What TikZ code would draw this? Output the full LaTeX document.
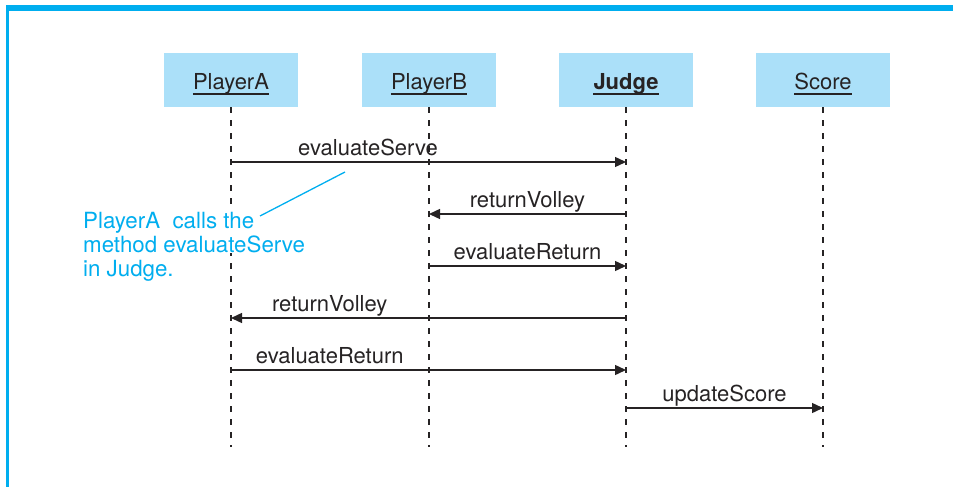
\documentclass[tikz,border=0pt]{standalone}
\usepackage{fontspec}
\setmainfont{TeX Gyre Heros}
\usetikzlibrary{arrows.meta,positioning}
\definecolor{boxblue}{HTML}{ABE0F9}
\definecolor{framecyan}{HTML}{00AEEF}
\definecolor{ink}{HTML}{262324}

\tikzset{
  obj/.style={fill=boxblue, minimum width=134pt, minimum height=54pt, inner sep=0pt},
  objname/.style={anchor=base, inner sep=0pt, text=ink},
  lifeline/.style={draw=ink, line width=1.4pt, dash pattern=on 6pt off 7pt},
  msg/.style={draw=ink, line width=1.4pt, -{Triangle[length=11pt,width=10pt]}},
  msglabel/.style={anchor=base, inner sep=0pt, yshift=7pt, text=ink},
  note/.style={anchor=base west, inner sep=1pt, fill=white, text=framecyan,
    font=\fontsize{22.3}{24}\selectfont},
  callout/.style={draw=framecyan, line width=1.3pt},
}

\begin{document}
\begin{tikzpicture}[x=1pt,y=-1pt,font=\fontsize{22}{26}\selectfont]
\useasboundingbox (0,0) rectangle (953,487);
% frame
\fill[framecyan] (6,5) rectangle (953,11);
\fill[framecyan] (6,5) rectangle (8.5,487);

% objects
\foreach \name/\x/\txt in {PlayerA/231/PlayerA, PlayerB/429/PlayerB,
    Judge/626/\bfseries Judge, Score/823/Score}{
  \node[obj] (\name) at (\x,80) {};
  \node[objname] (t\name) at (\x,89) {\txt};
  \draw[ink, line width=1.5pt] ([yshift=-5pt]t\name.base west) -- ([yshift=-5pt]t\name.base east);
  \coordinate (e\name) at (\x,447);
  \draw[lifeline] (\name.south) -- (e\name);
}

% messages
\foreach \y/\src/\dst/\p/\txt in {162/PlayerA/Judge/0.347/evaluateServe,
    214/Judge/PlayerB/0.5/returnVolley,
    266/PlayerB/Judge/0.5/evaluateReturn,
    318/Judge/PlayerA/0.75/returnVolley,
    370/PlayerA/Judge/0.25/evaluateReturn,
    408/Judge/Score/0.5/updateScore}
  \draw[msg] (\src |- 0,\y) -- node[msglabel, pos=\p] {\txt} (\dst |- 0,\y);

% note
\node[note] (remark1) at (82,228) {PlayerA\ \ calls the};
\node[note, below=24pt of remark1.base west, anchor=base west] (remark2) {method evaluateServe};
\node[note, below=24pt of remark2.base west, anchor=base west] (remark3) {in Judge.};
\coordinate (calloutfoot) at (260,216);
\coordinate (callouttip) at (345,172);
\draw[callout] (calloutfoot) -- (callouttip);
\end{tikzpicture}
\end{document}
